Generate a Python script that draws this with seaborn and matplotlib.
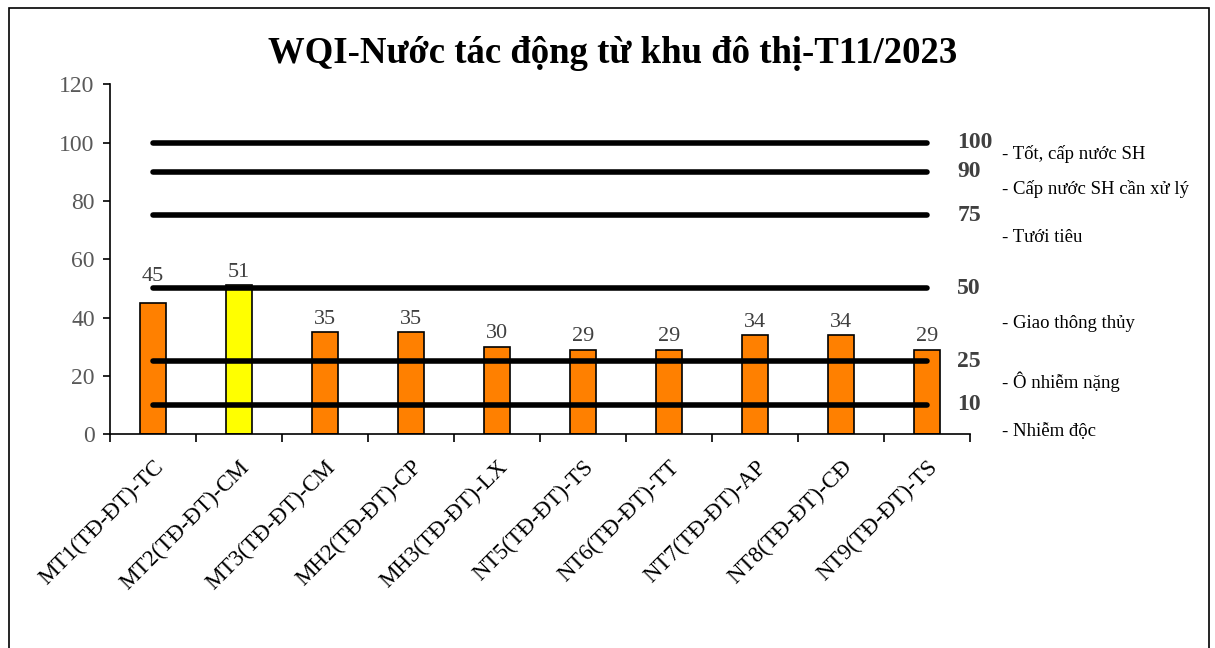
import pandas as pd
import seaborn as sns
import matplotlib.pyplot as plt
from matplotlib.patches import Rectangle

# chart data
stations = ["MT1(TĐ-ĐT)-TC", "MT2(TĐ-ĐT)-CM", "MT3(TĐ-ĐT)-CM", "MH2(TĐ-ĐT)-CP",
            "MH3(TĐ-ĐT)-LX", "NT5(TĐ-ĐT)-TS", "NT6(TĐ-ĐT)-TT", "NT7(TĐ-ĐT)-AP",
            "NT8(TĐ-ĐT)-CĐ", "NT9(TĐ-ĐT)-TS"]
wqi = [45, 51, 35, 35, 30, 29, 29, 34, 34, 29]
bar_colors = ["#FF8000", "#FFFF00", "#FF8000", "#FF8000", "#FF8000",
              "#FF8000", "#FF8000", "#FF8000", "#FF8000", "#FF8000"]
thresholds = [100, 90, 75, 50, 25, 10]
class_labels = ["- Tốt, cấp nước SH", "- Cấp nước SH cần xử lý", "- Tưới tiêu",
                "- Giao thông thủy", "- Ô nhiễm nặng", "- Nhiễm độc"]
class_label_y = [96, 84, 67.5, 38, 18, 1]

df = pd.DataFrame({"station": stations, "wqi": wqi})

sns.set_theme(style="white")
plt.rcParams["font.family"] = ["Liberation Serif", "DejaVu Serif"]

fig = plt.figure(figsize=(12.15, 6.48), dpi=100)
ax = fig.add_axes([0.0905, 0.330, 0.708, 0.540])

sns.barplot(data=df, x="station", y="wqi", hue="station", palette=bar_colors,
            saturation=1, legend=False, width=0.31, edgecolor="black",
            linewidth=1.2, ax=ax, zorder=2)

# value labels (pushed above a threshold line when they would sit on it)
for i, v in enumerate(wqi):
    y = v + 1.2
    for t in thresholds:
        if v < t < v + 7:
            y = t + 0.8
    ax.text(i, y, f"{v}", ha="center", va="bottom", fontsize=16,
            color="#404040", zorder=4)

# threshold lines
n = len(stations)
for t in thresholds:
    ax.plot([0, n - 1], [t, t], color="black", lw=4, solid_capstyle="round",
            zorder=3)

ax.set_xlim(-0.5, n - 0.5)
ax.set_ylim(0, 120)
ax.set_yticks(range(0, 121, 20))
ax.tick_params(axis="y", labelsize=17, labelcolor="#595959", length=5,
               width=1.2, direction="out", left=True, color="black", pad=6)
ax.set_xticks(range(n))
ax.set_xticklabels(stations, rotation=45, ha="right", rotation_mode="anchor",
                   fontsize=16.5, color="black")
ax.set_xticks([i - 0.5 for i in range(n + 1)], minor=True)
ax.tick_params(axis="x", which="major", length=0, pad=16)
ax.tick_params(axis="x", which="minor", length=6, width=1.2, direction="out",
               bottom=True, color="black")
ax.set_xlabel("")
ax.set_ylabel("")
sns.despine(ax=ax)
for s in ["left", "bottom"]:
    ax.spines[s].set_color("black")
    ax.spines[s].set_linewidth(1.2)

# right side annotations
trans = ax.get_yaxis_transform()
for t in thresholds:
    ax.text(1.0 + (957 - 970) / 860, t, f"{t}", transform=trans, ha="left",
            va="center", fontsize=17, fontweight="bold", color="#404040",
            clip_on=False)
for lab, y in zip(class_labels, class_label_y):
    ax.text(1.0 + (1002 - 970) / 860, y, lab, transform=trans, ha="left",
            va="center", fontsize=13.5, color="black", clip_on=False)

fig.text(0.504, 0.918, "WQI-Nước tác động từ khu đô thị-T11/2023", ha="center",
         va="center", fontsize=26.5, fontweight="bold", color="black")

fig.patches.append(Rectangle((0.007, -0.01), 0.988, 0.998, transform=fig.transFigure,
                             fill=False, edgecolor="black", lw=1.2))

fig.savefig("out.png", dpi=100)
